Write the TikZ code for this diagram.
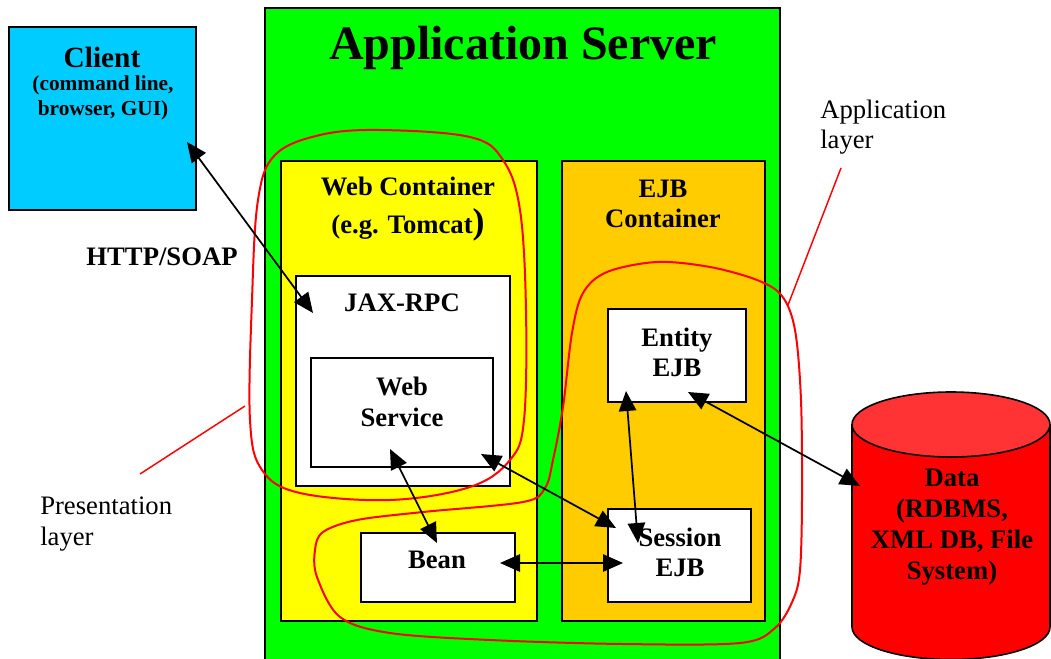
\documentclass[tikz,border=0pt]{standalone}
\usepackage{fontspec}
\setmainfont{Liberation Serif}
\usetikzlibrary{arrows.meta}
\definecolor{appgreen}{RGB}{0,255,0}
\definecolor{clientblue}{RGB}{0,204,255}
\definecolor{webyellow}{RGB}{255,255,0}
\definecolor{ejborange}{RGB}{255,204,0}
\definecolor{datared}{RGB}{255,0,0}
\definecolor{datatop}{RGB}{255,51,51}
\begin{document}
\begin{tikzpicture}[x=0.75pt,y=-0.75pt,
  box/.style={draw=black, line width=1.2pt, inner sep=0pt, outer sep=0pt, anchor=north west},
  lbl/.style={font=\bfseries\fontsize{20}{22.5}\selectfont, align=center, inner sep=0pt},
  plain/.style={font=\fontsize{20}{23}\selectfont, align=left, inner sep=0pt, anchor=west},
  conn/.style={line width=1.3pt, {Triangle[length=15pt,width=13pt]}-{Triangle[length=15pt,width=13pt]}},
  layerloop/.style={draw=red, line width=1.5pt},
  leader/.style={draw=red, line width=1.1pt}]
\useasboundingbox (0,0) rectangle (1051,658);

% containers
\node[box, fill=appgreen, minimum width=515*0.75pt, minimum height=670*0.75pt] (server) at (265,8) {};
\node[font=\bfseries\fontsize{36}{40}\selectfont, inner sep=0pt] (servertitle) at (523,48) {Application Server};

\node[box, fill=clientblue, minimum width=187*0.75pt, minimum height=183*0.75pt] (client) at (9,27) {};
\node[font=\bfseries\fontsize{22}{24}\selectfont, inner sep=0pt] (clienttitle) at (102,57) {Client};
\node[font=\bfseries\fontsize{16}{18.75}\selectfont, align=center, inner sep=0pt] (clientsub) at (103,97.5) {(command line,\\browser, GUI)};

\node[box, fill=webyellow, minimum width=256*0.75pt, minimum height=460*0.75pt] (web) at (281,161) {};
\node[lbl, font=\bfseries\fontsize{20}{28.5}\selectfont] (webtitle) at (408,209) {Web Container\\(e.g. Tomcat{\fontsize{27}{27}\selectfont)}};

\node[box, fill=ejborange, minimum width=203*0.75pt, minimum height=460*0.75pt] (ejb) at (562,161) {};
\node[lbl] (ejbtitle) at (663,203.5) {EJB\\Container};

% inner boxes
\node[box, fill=white, minimum width=214*0.75pt, minimum height=210*0.75pt] (jax) at (296,276) {};
\node[lbl] (jaxtitle) at (402,303) {JAX-RPC};

\node[box, fill=white, minimum width=182*0.75pt, minimum height=109*0.75pt] (ws) at (311,358) {};
\node[lbl, font=\bfseries\fontsize{20}{23.25}\selectfont] (wstext) at (402,401.5) {Web\\Service};

\node[box, fill=white, minimum width=138*0.75pt, minimum height=93*0.75pt] (entity) at (608,309) {};
\node[lbl] (entitytext) at (677,352) {Entity\\EJB};

\node[box, fill=white, minimum width=143*0.75pt, minimum height=93*0.75pt] (session) at (608,509) {};
\node[lbl] (sessiontext) at (680,552) {Session\\EJB};

\node[box, fill=white, minimum width=154*0.75pt, minimum height=69*0.75pt] (bean) at (361,533) {};
\node[lbl] (beantext) at (437,560) {Bean};

% data cylinder
\fill[datared] (852,424.5) -- (852,627) arc[start angle=180, end angle=0, x radius=99, y radius=32.5] -- (1050,424.5) -- cycle;
\draw[line width=1.2pt] (852,424.5) -- (852,627) arc[start angle=180, end angle=0, x radius=99, y radius=32.5] -- (1050,424.5);
\draw[line width=1.2pt, fill=datatop] (951,424.5) ellipse [x radius=99, y radius=32.5];
\node[lbl, font=\bfseries\fontsize{20}{23.25}\selectfont] (data) at (952,527) {Data\\(RDBMS,\\XML DB, File\\System)};

% labels
\node[lbl] (http) at (162,257) {HTTP/SOAP};
\node[plain] (applayer) at (820,127) {Application\\layer};
\node[plain] (preslayer) at (40,524) {Presentation\\layer};

% layer loops
\draw[layerloop] plot[smooth cycle, tension=0.6] coordinates {
  (380,130) (470,137) (503,160) (520,210) (526,310) (524,420) (510,460)
  (470,487) (390,500) (300,493) (262,470) (250,420) (252,300) (258,200)
  (275,155) (320,135)};
\draw[layerloop] plot[smooth cycle, tension=0.55] coordinates {
  (657,262) (710,267) (757,280) (782,296) (795,330) (801,400) (802,500)
  (800,570) (793,600) (775,628) (740,643) (623,644) (490,640) (390,633)
  (340,617) (317,577) (315,550) (323,532) (357,520) (423,512) (523,502)
  (545,488) (553,460) (563,407) (572,333) (583,293) (607,272)};

% leader lines
\coordinate (appleadA) at (841,168);
\coordinate (appleadB) at (788,305);
\coordinate (presleadA) at (140,474);
\coordinate (presleadB) at (245,406);
\draw[leader] (appleadA) -- (appleadB);
\draw[leader] (presleadA) -- (presleadB);

% connector end points
\coordinate (cClient) at (187,142);
\coordinate (cJax) at (313,313);
\coordinate (cWsA) at (390,449);
\coordinate (cBeanTop) at (437,543);
\coordinate (cWsB) at (481,454);
\coordinate (cSesA) at (616,528);
\coordinate (cEntA) at (626,391);
\coordinate (cSesB) at (638,543);
\coordinate (cBeanR) at (500,563);
\coordinate (cSesC) at (623,563);
\coordinate (cEntB) at (688,392);
\coordinate (cData) at (860,486);

\draw[conn] (cClient) -- (cJax);
\draw[conn] (cWsA) -- (cBeanTop);
\draw[conn] (cWsB) -- (cSesA);
\draw[conn] (cEntA) -- (cSesB);
\draw[conn] (cBeanR) -- (cSesC);
\draw[conn] (cEntB) -- (cData);
\end{tikzpicture}
\end{document}
